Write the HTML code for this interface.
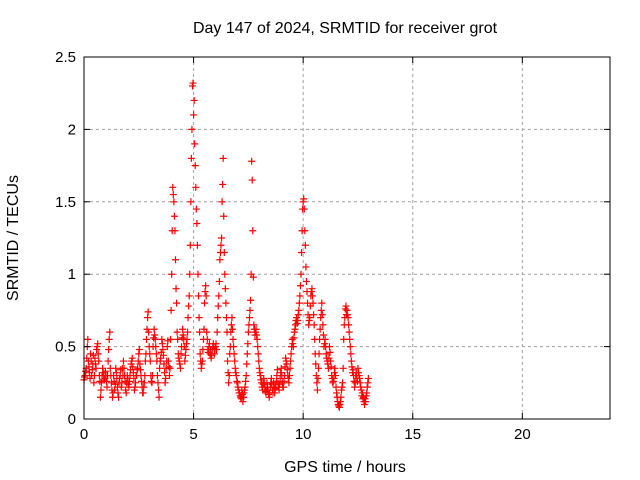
<!DOCTYPE html>
<html><head><meta charset="utf-8"><style>
body{margin:0;background:#fff;}
svg{display:block;font-family:"Liberation Sans",sans-serif;}
</style></head><body>
<svg id="chart" width="640" height="480">
<text x="345" y="33" font-size="16" text-anchor="middle">Day 147 of 2024, SRMTID for receiver grot</text>
<text x="345" y="472" font-size="16" text-anchor="middle">GPS time / hours</text>
<text transform="translate(18,238) rotate(-90)" font-size="16" text-anchor="middle">SRMTID / TECUs</text>
<g id="grid"></g><g id="marks"></g><g id="axes"></g>
</svg>
<script>
const xTicks=[0,5,10,15,20];
const yTicks=[0,0.5,1,1.5,2,2.5];
const yTickLabels=["0","0.5","1","1.5","2","2.5"];
const startHour=0, stepHour=0.05, offsetHour2=0.025;
const srmtid=[
0.27,0.30,0.35,0.50,0.40,0.32,0.45,0.30,0.38,0.25,0.42,0.35,0.50,0.45,0.30,0.15,0.25,0.35,0.30,0.28,
0.30,0.22,0.40,0.55,0.35,0.25,0.15,0.30,0.20,0.35,0.28,0.18,0.25,0.30,0.22,0.35,0.40,0.30,0.20,0.25,
0.28,0.22,0.30,0.38,0.42,0.32,0.20,0.25,0.30,0.35,0.45,0.38,0.30,0.22,0.18,0.25,0.40,0.55,0.70,0.60,
0.45,0.30,0.25,0.50,0.62,0.55,0.45,0.30,0.20,0.35,0.42,0.55,0.48,0.38,0.25,0.35,0.50,0.40,0.30,0.55,
1.0,1.6,1.5,1.3,0.9,0.6,0.45,0.40,0.35,0.50,0.62,0.55,0.40,0.48,0.55,0.70,0.85,1.2,1.8,2.3,
2.1,1.9,1.6,1.35,1.0,0.70,0.45,0.35,0.40,0.55,0.80,0.92,0.60,0.48,0.50,0.45,0.42,0.48,0.52,0.45,
0.50,0.48,0.70,0.85,1.1,1.2,1.5,1.8,1.15,0.9,0.7,0.40,0.25,0.45,0.60,0.70,0.55,0.45,0.35,0.30,
0.25,0.20,0.18,0.15,0.20,0.12,0.18,0.22,0.30,0.45,0.60,0.70,0.82,1.78,1.3,0.65,0.58,0.62,0.55,0.45,
0.35,0.30,0.25,0.20,0.28,0.22,0.18,0.25,0.20,0.15,0.22,0.28,0.20,0.25,0.18,0.22,0.30,0.25,0.20,0.28,
0.35,0.25,0.22,0.30,0.42,0.38,0.30,0.25,0.35,0.45,0.55,0.50,0.60,0.65,0.70,0.68,0.75,0.85,1.0,1.3,
1.5,1.45,1.2,0.95,0.80,0.65,0.70,0.85,0.90,0.80,0.65,0.45,0.30,0.20,0.35,0.55,0.70,0.80,0.65,0.50,
0.55,0.45,0.40,0.35,0.50,0.40,0.30,0.25,0.28,0.35,0.22,0.15,0.10,0.08,0.12,0.20,0.25,0.55,0.70,0.78,
0.75,0.70,0.60,0.50,0.40,0.32,0.30,0.22,0.30,0.28,0.35,0.30,0.25,0.20,0.18,0.15,0.10,0.12,0.18,0.25];
const srmtid2=[
0.29,0.33,0.42,0.55,0.36,0.28,0.40,0.34,0.44,0.30,0.38,0.48,0.52,0.40,0.26,0.20,0.30,0.32,0.27,0.33,
0.26,0.30,0.48,0.60,0.30,0.20,0.18,0.26,0.24,0.32,0.22,0.15,0.28,0.34,0.25,0.30,0.35,0.26,0.18,0.30,
0.24,0.26,0.34,0.40,0.36,0.28,0.22,0.30,0.34,0.40,0.48,0.34,0.26,0.18,0.22,0.30,0.45,0.62,0.74,0.50,
0.40,0.26,0.30,0.56,0.58,0.50,0.40,0.25,0.15,0.40,0.46,0.52,0.44,0.32,0.28,0.40,0.54,0.36,0.35,0.75,
1.3,1.55,1.4,1.1,0.8,0.55,0.42,0.38,0.45,0.56,0.58,0.50,0.44,0.52,0.60,0.78,1.0,1.5,2.0,2.32,
2.2,1.75,1.45,1.2,0.85,0.60,0.40,0.38,0.48,0.62,0.88,0.85,0.55,0.46,0.52,0.48,0.44,0.50,0.50,0.48,
0.52,0.60,0.78,0.95,1.15,1.25,1.62,1.4,1.0,0.8,0.6,0.32,0.30,0.50,0.65,0.62,0.50,0.40,0.32,0.26,
0.22,0.18,0.16,0.14,0.17,0.15,0.20,0.26,0.38,0.52,0.65,0.75,1.0,1.65,0.98,0.62,0.60,0.58,0.50,0.40,
0.32,0.27,0.22,0.24,0.25,0.19,0.20,0.22,0.17,0.18,0.25,0.24,0.18,0.22,0.21,0.26,0.34,0.22,0.24,0.32,
0.30,0.22,0.26,0.36,0.40,0.34,0.28,0.30,0.40,0.50,0.52,0.56,0.62,0.68,0.66,0.72,0.80,0.92,1.15,1.45,
1.52,1.3,1.05,0.88,0.72,0.68,0.78,0.88,0.85,0.72,0.55,0.38,0.25,0.28,0.45,0.62,0.75,0.72,0.58,0.52,
0.50,0.42,0.38,0.42,0.46,0.36,0.28,0.26,0.32,0.30,0.18,0.12,0.09,0.10,0.15,0.22,0.35,0.65,0.76,0.72,
0.72,0.65,0.55,0.45,0.36,0.34,0.26,0.25,0.32,0.26,0.32,0.28,0.22,0.16,0.14,0.12,0.14,0.16,0.22,0.28];
const X0=84,X1=610,Y0=419,Y1=57;
const xs=v=>X0+(v/24)*(X1-X0);
const ys=v=>Y0-(v/2.5)*(Y0-Y1);
const NS="http://www.w3.org/2000/svg";
function mk(parent,tag,attrs){const e=document.createElementNS(NS,tag);for(const k in attrs)e.setAttribute(k,attrs[k]);parent.appendChild(e);return e;}
const grid=document.getElementById('grid'),marks=document.getElementById('marks'),axes=document.getElementById('axes');
xTicks.forEach(t=>{const x=xs(t);
 if(t>0){const g=mk(grid,'line',{x1:x,x2:x,y1:Y0,y2:Y1,stroke:'#a0a0a0','stroke-dasharray':'3,3'});
 
 }
 mk(axes,'line',{x1:x,x2:x,y1:Y0,y2:Y0-6,stroke:'#000'});
 mk(axes,'line',{x1:x,x2:x,y1:Y1,y2:Y1+6,stroke:'#000'});
 const l=mk(axes,'text',{x:x,y:Y0+20,'font-size':15,'text-anchor':'middle'});l.textContent=t;
 
 });
yTicks.forEach((t,i)=>{const y=ys(t);
 if(t>0&&t<2.5){const g=mk(grid,'line',{x1:X0,x2:X1,y1:y,y2:y,stroke:'#a0a0a0','stroke-dasharray':'3,3'});
 
 }
 mk(axes,'line',{x1:X0,x2:X0+6,y1:y,y2:y,stroke:'#000'});
 mk(axes,'line',{x1:X1,x2:X1-6,y1:y,y2:y,stroke:'#000'});
 const l=mk(axes,'text',{x:X0-8,y:y+5,'font-size':15,'text-anchor':'end'});l.textContent=yTickLabels[i];
 
 });
const b=mk(axes,'rect',{x:X0,y:Y1,width:X1-X0,height:Y0-Y1,fill:'none',stroke:'#000'});


function plus(x,y,col){
 const p=mk(marks,'path',{d:`M${x-3.5},${y}h7M${x},${y-3.5}v7`,stroke:col,'stroke-width':1.2});
 
 }
srmtid2.forEach((v,i)=>plus(xs(startHour+i*stepHour+offsetHour2),ys(v),'#f00'));
srmtid.forEach((v,i)=>plus(xs(startHour+i*stepHour),ys(v),'#f00'));
</script>
</body></html>
